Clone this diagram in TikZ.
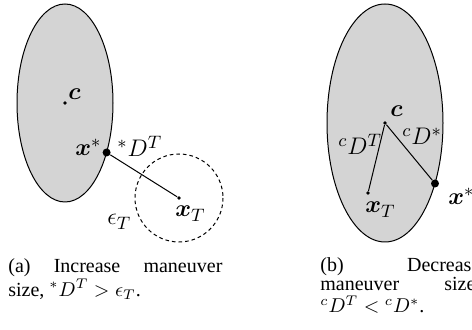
\documentclass[tikz,border=0pt]{standalone}
\usepackage{fontspec}
\setmainfont{Liberation Serif}
\usepackage{bm}

\begin{document}
\begin{tikzpicture}[x=0.5pt, y=-0.5pt,
  region/.style={draw, fill=black!17, line width=0.5pt},
  tolring/.style={draw, line width=0.5pt, dash pattern=on 1.8pt off 1.5pt},
  dotpt/.style={circle, fill, inner sep=0pt, minimum size=1.8pt},
  bigpt/.style={circle, fill, inner sep=0pt, minimum size=4pt},
  lbl/.style={inner sep=0pt, anchor=base west, font=\fontsize{13}{15}\selectfont},
  capt/.style={inner sep=0pt, anchor=base west, font=\fontsize{10}{9.5}\selectfont}]

\useasboundingbox (0,0) rectangle (472,330);
\clip (0,0) rectangle (472,330);

% (a) taille augmentee
\draw[region] (65,103) ellipse [x radius=48, y radius=99];
\draw[tolring] (179,198) circle [radius=44];
\node[dotpt] (ca) at (65,103) {};
\node[bigpt] (xsa) at (106.6,152.5) {};
\node[dotpt] (xta) at (179,198) {};
\draw[line width=0.5pt] (xsa) -- (xta);

\node[lbl] (lca) at (68,100) {$\bm{c}$};
\node[lbl] (lxsa) at (75,156) {$\bm{x}^*$};
\node[lbl] (ldta) at (117,157) {$^*D^T$};
\node[lbl] (lxta) at (175,217) {$\bm{x}_T$};
\node[lbl] (leps) at (107,225) {$\epsilon_T$};

% (b) taille diminuee
\draw[region] (385,123) ellipse [x radius=58, y radius=119];
\node[dotpt] (cb) at (385,123) {};
\node[dotpt] (xtb) at (368,193) {};
\node[bigpt] (xsb) at (435,183.5) {};
\draw[line width=0.5pt] (cb) -- (xtb);
\draw[line width=0.5pt] (cb) -- (xsb);

\node[lbl] (lcb) at (390,117) {$\bm{c}$};
\node[lbl] (ldtb) at (338,155) {$^cD^T$};
\node[lbl] (ldsb) at (402,145) {$^cD^*$};
\node[lbl] (lxtb) at (365,213) {$\bm{x}_T$};
\node[lbl] (lxsb) at (448,205) {$\bm{x}^*$};

% Legendes
\node[capt] (capa) at (8,273) {\parbox[t]{107pt}{(a) Increase maneuver\linebreak size, $^*D^T > \epsilon_T$.}};
\node[capt] (capb) at (320,272) {\parbox[t]{80pt}{(b) Decrease\linebreak maneuver size,\linebreak $^cD^T < {}^cD^*$.}};

\end{tikzpicture}
\end{document}
